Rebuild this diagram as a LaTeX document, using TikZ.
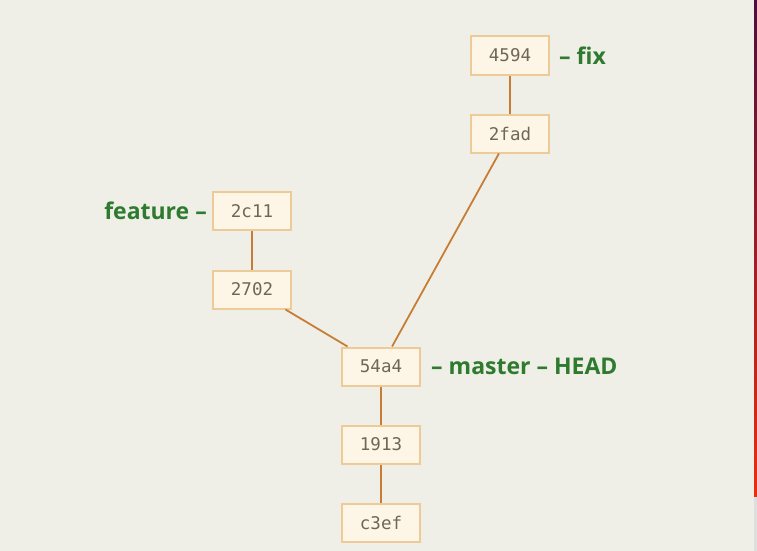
\documentclass[tikz,border=0pt]{standalone}
\usepackage{fontspec}
\setmainfont{Open Sans}
\newfontfamily\monof{DejaVu Sans Mono}
\usetikzlibrary{positioning}
\definecolor{bgc}{HTML}{EFEFE8}
\definecolor{boxfill}{HTML}{FDF6E6}
\definecolor{boxline}{HTML}{EDCB98}
\definecolor{edgec}{HTML}{C87D35}
\definecolor{txtc}{HTML}{706656}
\definecolor{lblc}{HTML}{2E7A2E}
\definecolor{stripa}{HTML}{4A0F3E}
\definecolor{stripb}{HTML}{E8300E}
\tikzset{
  commit/.style={draw=boxline, line width=2pt, fill=boxfill, minimum width=78pt, minimum height=38pt, inner sep=0pt, font=\monof\fontsize{17.5}{19}\selectfont, text=txtc},
  link/.style={draw=edgec, line width=1.8pt},
  reflbl/.style={inner sep=0pt, font=\fontsize{23}{25}\selectfont\bfseries, text=lblc}
}
\begin{document}
\begin{tikzpicture}[x=1pt,y=-1pt]
\fill[bgc] (0,0) rectangle (757,551);
\useasboundingbox (0,0) rectangle (757,551);
\shade[top color=stripa, bottom color=stripb] (754,0) rectangle (757,497);
\fill[gray!25] (754,497) rectangle (757,551);
\node[commit] (n4594) at (510,55.5) {4594};
\node[commit] (n2fad) at (510,133.5) {2fad};
\node[commit] (n2c11) at (252,211) {2c11};
\node[commit] (n2702) at (252,289.5) {2702};
\node[commit] (n54a4) at (381,366.5) {54a4};
\node[commit] (n1913) at (381,444.5) {1913};
\node[commit] (nc3ef) at (381,522.5) {c3ef};
\path[link] (n4594) -- (n2fad);
\path[link] (n2fad) -- (n54a4);
\path[link] (n2c11) -- (n2702);
\path[link] (n2702) -- (n54a4);
\path[link] (n54a4) -- (n1913);
\path[link] (n1913) -- (nc3ef);
\node[reflbl, right=9pt of n4594] (lfix) {– fix};
\node[reflbl, left=5pt of n2c11] (lfeat) {feature –};
\node[reflbl, right=10pt of n54a4] (lmaster) {– master – HEAD};
\end{tikzpicture}
\end{document}
